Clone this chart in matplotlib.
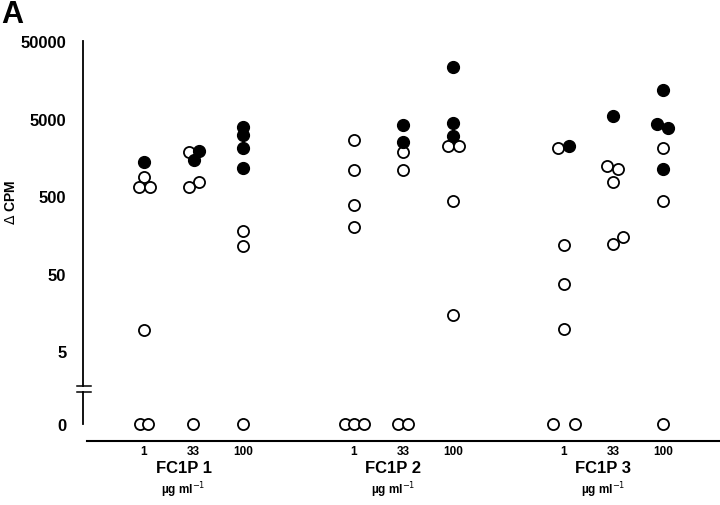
import numpy as np
import matplotlib
matplotlib.use("Agg")
import matplotlib.pyplot as plt

plt.rcParams['font.family'] = ['Liberation Sans', 'DejaVu Sans']

groups = ["FC1P 1", "FC1P 2", "FC1P 3"]
doses = ["1", "33", "100"]
yticks = [0, 5, 50, 500, 5000, 50000]

# filled circles
f_grp  = [0, 0, 0, 0, 0, 0, 0,   1, 1, 1, 1, 1,   2, 2, 2, 2, 2, 2]
f_dose = [0, 1, 1, 2, 2, 2, 2,   1, 1, 2, 2, 2,   0, 1, 2, 2, 2, 2]
f_cpm  = [1374, 1905, 1458, 3882, 3062, 2081, 1148,
          4121, 2489, 23100, 4375, 2972,
          2208, 5387, 11660, 4246, 3770, 1115]
f_jit  = [0, .12, .02, 0, 0, 0, 0,   0, 0, 0, 0, 0,   .1, 0, 0, -.12, .1, 0]

# open circles
o_grp  = [0]*13 + [1]*15 + [2]*14
o_dose = [0, 0, 0, 0, 0, 0,  1, 1, 1, 1,  2, 2, 2,
          0, 0, 0, 0, 0, 0, 0,  1, 1, 1, 1,  2, 2, 2, 2,
          0, 0, 0, 0, 0, 0,  1, 1, 1, 1, 1,  2, 2, 2]
o_cpm  = [879, 653, 653, 9.3, 0, 0,  1849, 758, 653, 0,  177, 113, 0,
          2642, 1081, 383, 199, 0, 0, 0,  1849, 1081, 0, 0,  2208, 2208, 431, 14.6,
          2081, 117, 36.6, 9.6, 0, 0,  1219, 1115, 758, 120, 148,  2081, 431, 0]
o_jit  = [0, -.1, .12, 0, -.09, .09,  -.1, .12, -.1, 0,  0, 0, 0,
          0, 0, 0, 0, -.18, 0, .2,  0, 0, -.1, .1,  -.1, .12, 0, 0,
          -.12, 0, 0, 0, -.22, .22,  -.12, .1, 0, 0, .2,  0, 0, 0]

GAP = 4.24      # distance between compound groups, in dose columns
Z0 = -0.24      # where 0 sits, in decades below 1


def fwd(v):
    v = np.asarray(v, dtype=float)
    return np.where(v >= 1, np.log10(np.maximum(v, 1)), Z0 * (1 - v))


def inv(c):
    c = np.asarray(c, dtype=float)
    return np.where(c >= 0, 10.0 ** np.clip(c, -10, 10), 1 - c / Z0)


fig = plt.figure(figsize=(7.2, 5.06), dpi=100)
ax = fig.add_axes([83/720, 1 - 442/506, 637/720, 400/506])
ax.set_yscale('function', functions=(fwd, inv))

fx = np.array(f_grp) * GAP + np.array(f_dose) + np.array(f_jit)
ox = np.array(o_grp) * GAP + np.array(o_dose) + np.array(o_jit)
ax.plot(ox, o_cpm, 'o', ls='none', ms=8, mfc='white', mec='black', mew=1.3,
        clip_on=False, zorder=3)
ax.plot(fx, f_cpm, 'o', ls='none', ms=8.5, mfc='black', mec='black',
        clip_on=False, zorder=4)

ax.set_xlim(-1.232, 11.636)
ax.set_ylim(-0.92, 50000)

# axes lines
for s in ['top', 'right', 'left']:
    ax.spines[s].set_visible(False)
ax.spines['bottom'].set_linewidth(1.5)
ax.spines['bottom'].set_bounds(-1.15, 11.636)

ytr = ax.get_yaxis_transform()
ax.plot([0, 0], [50000, 1.77], transform=ytr, color='black', lw=1.3, clip_on=False)
ax.plot([0, 0], [1.48, 0], transform=ytr, color='black', lw=1.3, clip_on=False)
for yb in [1.77, 1.48]:
    ax.plot([-6/637, 8/637], [yb, yb], transform=ytr, color='black', lw=1.1,
            clip_on=False)

ax.set_yticks(yticks)
ax.set_yticklabels([str(t) for t in yticks], fontsize=12, fontweight='bold')
ax.yaxis.set_minor_locator(matplotlib.ticker.NullLocator())
ax.tick_params(axis='y', length=0, pad=12)

xt = [g * GAP + d for g in range(len(groups)) for d in range(len(doses))]
ax.set_xticks(xt)
ax.set_xticklabels(doses * len(groups), fontsize=8.5, fontweight='bold')
ax.tick_params(axis='x', length=0, pad=3)

xtr = ax.get_xaxis_transform()
for g, name in enumerate(groups):
    ax.text(g * GAP + 0.8, -0.0675, name, transform=xtr, ha='center', va='center',
            fontsize=12, fontweight='bold')
    ax.text(g * GAP + 0.8, -0.12, 'µg ml$^{-1}$', transform=xtr, ha='center',
            va='center', fontsize=8.5, fontweight='bold')

fig.text(11/720, 1 - 202/506, r'$\Delta$ CPM', rotation=90, ha='center',
         va='center', fontsize=10, fontweight='bold')
fig.text(1/720, 1 - 15/506, 'A', ha='left', va='center', fontsize=22,
         fontweight='bold')

fig.savefig('out.png', dpi=100)
